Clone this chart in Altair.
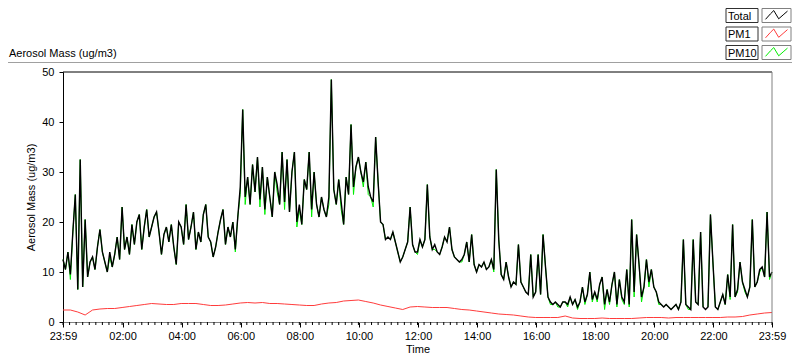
import json
import altair as alt
import pandas as pd

# ---------------- data ----------------
# Total aerosol mass, 5-minute samples, one row per hour starting 23:59
total_by_hour = [
    [12.5, 10.5, 14, 9.5, 18, 25.5, 6.5, 32.5, 7, 20.5, 9, 12],
    [13, 10.5, 15, 18.5, 14, 12, 10, 14, 11, 13.5, 17, 12.5],
    [23, 14.5, 17, 13.5, 19.5, 15.5, 20, 21.5, 14.5, 19, 22.5, 17],
    [19, 21, 22, 18, 13.5, 17.5, 19, 16, 19.5, 15, 11.5, 20],
    [19, 15.5, 23.5, 16.5, 19, 22, 14.5, 18, 16, 21.5, 23.5, 17],
    [16, 13, 15, 18, 20.5, 22.5, 15.5, 19, 17, 20, 14.5, 21],
    [27, 42.5, 25, 29, 23.5, 31.5, 26, 33, 24.5, 31, 22.5, 29],
    [25, 21, 30, 27.5, 23.5, 34, 24, 32.5, 22, 30, 34, 20],
    [23.5, 19.5, 28.5, 26.5, 34, 22.5, 30, 23.5, 21, 25, 22.5, 21],
    [25, 48.5, 26.5, 23.5, 28.5, 24, 19.5, 29, 25.5, 39.5, 27, 31],
    [33, 30, 28, 32, 27, 25, 24, 37, 28, 20, 19.5, 16.5],
    [17, 16.5, 18, 16, 14, 12, 13, 14.5, 16, 23, 15.5, 14],
    [14, 16.5, 15, 16.5, 27.5, 17, 14.5, 15.5, 14, 13.5, 15, 17],
    [16, 19, 14.5, 13, 12.5, 12, 12.5, 13.5, 16, 12, 17.5, 11.5],
    [10, 11.5, 11, 12, 10.5, 11, 12.5, 10.5, 30.5, 16.5, 9.5, 8.5],
    [12, 9, 7, 8, 7.5, 15.5, 8, 7, 6, 5.5, 13.5, 5],
    [6, 13.5, 5.5, 17.5, 11, 5, 4, 3.5, 4, 3.5, 3, 4],
    [4, 3.5, 5, 3.5, 4.5, 3, 4, 7, 4, 5.5, 10, 4.5],
    [6, 4.5, 7.5, 9, 3.5, 6.5, 4, 7.5, 10, 3.5, 8.5, 5],
    [4, 10.5, 3.5, 20.5, 6, 17.5, 11.5, 5, 7, 12.5, 8, 10.5],
    [7, 6, 4, 3.5, 3, 3.5, 3, 2.5, 3, 3.5, 2.5, 4],
    [16.5, 3.5, 3, 2.5, 16.5, 4, 3.5, 18, 3, 2.5, 3, 21.5],
    [12, 3, 2.5, 4, 5.5, 3.5, 9.5, 5, 19.5, 5, 6.5, 12],
    [8, 6.5, 5, 7, 20.5, 7, 8, 10.5, 11, 9, 22, 9],
]
total_end = 10

# PM10, same sampling
pm10_by_hour = [
    [12.5, 10.5, 14, 8.5, 18, 25.5, 6.5, 32.5, 7, 20.5, 9, 12],
    [13, 10.5, 15, 18.5, 14, 12, 10, 13, 11, 13.5, 17, 12.5],
    [23, 14.5, 17, 13.5, 19.5, 15.5, 20, 21.5, 14.5, 19, 22.5, 17],
    [19, 21, 22, 18, 13.5, 17.5, 19, 16, 19.5, 15, 11.5, 20],
    [19, 15.5, 23.5, 16.5, 19, 22, 14.5, 18, 16, 21.5, 23.5, 17],
    [16, 13, 15, 18, 20.5, 22.5, 15.5, 19, 17, 20, 14, 21],
    [25.5, 42.5, 23.5, 29, 23.5, 31.5, 26, 33, 23, 31, 21.5, 29],
    [25, 21, 30, 26, 23.5, 34, 22.5, 32.5, 22, 30, 34, 19],
    [22.5, 19.5, 28.5, 26.5, 34, 21, 30, 23.5, 21, 25, 22.5, 21],
    [23.5, 48.5, 26.5, 23.5, 28.5, 22.5, 19.5, 29, 25.5, 39.5, 25.5, 31],
    [33, 30, 27, 32, 25.5, 25, 23, 37, 28, 20, 19.5, 16.5],
    [17, 16.5, 18, 16, 14, 12, 13, 14.5, 16, 23, 15.5, 14],
    [13.5, 16.5, 15, 16.5, 27.5, 17, 14.5, 14.5, 14, 13.5, 15, 17],
    [16, 19, 14.5, 13, 12.5, 12, 12, 13.5, 16, 12, 17.5, 11.5],
    [10, 11.5, 11, 12, 10.5, 11, 12.5, 10, 30.5, 16.5, 9.5, 8.5],
    [12, 9, 7, 8, 7.5, 15.5, 8, 7, 6, 5.5, 13.5, 5],
    [6, 13.5, 5.5, 17.5, 11, 5, 3.5, 3.5, 4, 3, 3, 4],
    [4, 3, 5, 3.5, 4.5, 2.5, 4, 7, 3.5, 5.5, 10, 4],
    [6, 4, 7.5, 9, 2.5, 6.5, 3.5, 7.5, 10, 3, 8.5, 4.5],
    [3.5, 10.5, 3, 20.5, 5, 17.5, 11.5, 4, 7, 12.5, 7, 10.5],
    [7, 6, 3.5, 3.5, 3, 3.5, 3, 2.5, 3, 3.5, 2.5, 4],
    [16.5, 3.5, 2.5, 2.5, 16.5, 4, 3.5, 18, 3, 2.5, 3, 21.5],
    [12, 3, 2.5, 4, 5.5, 3.5, 9.5, 4.5, 19.5, 5, 6, 12],
    [8, 6, 5, 7, 20.5, 7, 8, 10, 11, 9, 22, 8.5],
]
pm10_end = 10

# PM1, 15-minute samples
pm1_values = [
    2.4, 2.4, 2.0, 1.4, 2.4, 2.6, 2.7, 2.7, 2.9, 3.1, 3.3, 3.5,
    3.7, 3.6, 3.5, 3.5, 3.7, 3.7, 3.7, 3.5, 3.3, 3.3, 3.4, 3.6,
    3.8, 3.9, 3.8, 3.9, 3.7, 3.7, 3.6, 3.5, 3.4, 3.3, 3.3, 3.6,
    3.8, 3.9, 4.2, 4.3, 4.4, 4.1, 3.8, 3.4, 3.1, 2.8, 2.5, 3.0,
    3.1, 3.0, 2.9, 2.9, 2.9, 2.7, 2.5, 2.4, 2.2, 2.0, 1.8, 1.6,
    1.5, 1.4, 1.2, 1.0, 0.9, 0.9, 0.9, 0.9, 1.2, 0.8, 0.7, 0.7,
    0.7, 0.8, 0.7, 0.7, 0.7, 0.7, 0.8, 0.9, 0.9, 0.9, 0.8, 0.9,
    0.9, 0.9, 0.9, 0.9, 0.9, 0.9, 1.0, 1.0, 1.1, 1.4, 1.6, 1.8,
    1.9,
]

major_ticks = [0, 121, 241, 361, 481, 601, 721, 841, 961, 1081, 1201, 1321, 1440]
major_labels = ["23:59", "02:00", "04:00", "06:00", "08:00", "10:00", "12:00",
                "14:00", "16:00", "18:00", "20:00", "22:00", "23:59"]
minor_ticks = [round(i * 40 / 3, 3) for i in range(109)]
y_ticks = [0, 5, 10, 15, 20, 25, 30, 35, 40, 45, 50]

legend_names = ["Total", "PM1", "PM10"]
legend_colors = ["#000000", "#ff3c3c", "#00ee00"]

# ---------------- tables ----------------
total = [v for row in total_by_hour for v in row] + [total_end]
pm10 = [v for row in pm10_by_hour for v in row] + [pm10_end]
n = len(total)
main_df = pd.DataFrame({
    "t": [i * 1440 / (n - 1) for i in range(n)],
    "total": total,
    "pm10": pm10,
})
m = len(pm1_values)
pm1_df = pd.DataFrame({"t": [i * 1440 / (m - 1) for i in range(m)], "pm1": pm1_values})
minor_df = pd.DataFrame({"t": minor_ticks})

FONT = "Liberation Sans"
W, H = 709, 250

label_expr = f"{json.dumps(major_labels)}[indexof({json.dumps(major_ticks)}, datum.value)]"

xscale = alt.Scale(domain=[0, 1440], nice=False, zero=False)
yscale = alt.Scale(domain=[0, 50], nice=False, zero=True)

x_axis = alt.Axis(values=major_ticks, labelExpr=label_expr, tickSize=5, tickColor="black",
                  domainColor="#808080", labelPadding=3, labelFlush=False, labelOverlap=False,
                  labelBound=False, grid=False, title="Time", titleFont=FONT,
                  titleFontSize=11, titleFontWeight="normal", titleColor="black", titleY=21)
y_axis = alt.Axis(values=y_ticks, tickSize=4, tickColor="black", domainColor="black",
                  labelPadding=5, grid=False, title="Aerosol Mass (ug/m3)", titleFont=FONT,
                  titleFontSize=11, titleFontWeight="normal", titleColor="black",
                  titleX=-32, titleY=125, titleAngle=270, titleAlign="center",
                  titleBaseline="middle")

pm1_line = alt.Chart(pm1_df).mark_line(color="#ff3c3c", strokeWidth=1).encode(
    x=alt.X("t:Q", scale=xscale, axis=x_axis),
    y=alt.Y("pm1:Q", scale=yscale, axis=y_axis),
)
pm10_line = alt.Chart(main_df).mark_line(color="#00ee00", strokeWidth=1).encode(
    x=alt.X("t:Q", scale=xscale), y=alt.Y("pm10:Q", scale=yscale)
)
total_line = alt.Chart(main_df).mark_line(color="black", strokeWidth=1.4).encode(
    x=alt.X("t:Q", scale=xscale), y=alt.Y("total:Q", scale=yscale)
)
minor = alt.Chart(minor_df).mark_rule(color="black", strokeWidth=1).encode(
    x=alt.X("t:Q", scale=xscale), y=alt.value(H), y2=alt.value(H + 3)
)

one = alt.Data(values=[{}])
deco = []
# plot frame: top black, right grey
deco.append(alt.Chart(one).mark_rule(color="black").encode(
    x=alt.value(0), x2=alt.value(W), y=alt.value(0)))
deco.append(alt.Chart(one).mark_rule(color="#808080").encode(
    x=alt.value(W), y=alt.value(0), y2=alt.value(H)))
# panel separator line
deco.append(alt.Chart(one).mark_rule(color="#a0a0a0").encode(
    x=alt.value(-55), x2=alt.value(729), y=alt.value(-9.5)))
# top-left caption
deco.append(alt.Chart(one).mark_text(font=FONT, fontSize=11, align="left",
                                     baseline="alphabetic", color="black").encode(
    x=alt.value(-54), y=alt.value(-15), text=alt.value("Aerosol Mass (ug/m3)")))

zig = "M-1,0.35L-0.55,-0.15L-0.25,-0.45L0.2,0.3L0.6,-0.05L1,-0.4"
row_tops = [-63.5, -45, -26.5]
for name, col, top in zip(legend_names, legend_colors, row_tops):
    deco.append(alt.Chart(one).mark_rect(fill="white", stroke="#303030", strokeWidth=1).encode(
        x=alt.value(663), x2=alt.value(695), y=alt.value(top), y2=alt.value(top + 14)))
    deco.append(alt.Chart(one).mark_rect(fill="white", stroke="#808080", strokeWidth=1).encode(
        x=alt.value(699), x2=alt.value(728), y=alt.value(top), y2=alt.value(top + 14)))
    deco.append(alt.Chart(one).mark_text(font=FONT, fontSize=11, align="left",
                                         baseline="alphabetic", color="black").encode(
        x=alt.value(665), y=alt.value(top + 11), text=alt.value(name)))
    deco.append(alt.Chart(one).mark_point(shape=zig, filled=False, size=484, color=col,
                                          strokeWidth=1, opacity=1).encode(
        x=alt.value(713.5), y=alt.value(top + 7)))

chart = alt.layer(pm1_line, pm10_line, total_line, minor, *deco).properties(
    width=W, height=H,
    autosize=alt.AutoSizeParams(type="none"),
    padding={"left": 55, "top": 64, "right": 20, "bottom": 31},
    background="white",
).configure_view(stroke=None).configure_axis(
    labelFont=FONT, labelFontSize=11, labelColor="black"
)

chart.save("out.html", embed_options={"renderer": "svg", "actions": False})
